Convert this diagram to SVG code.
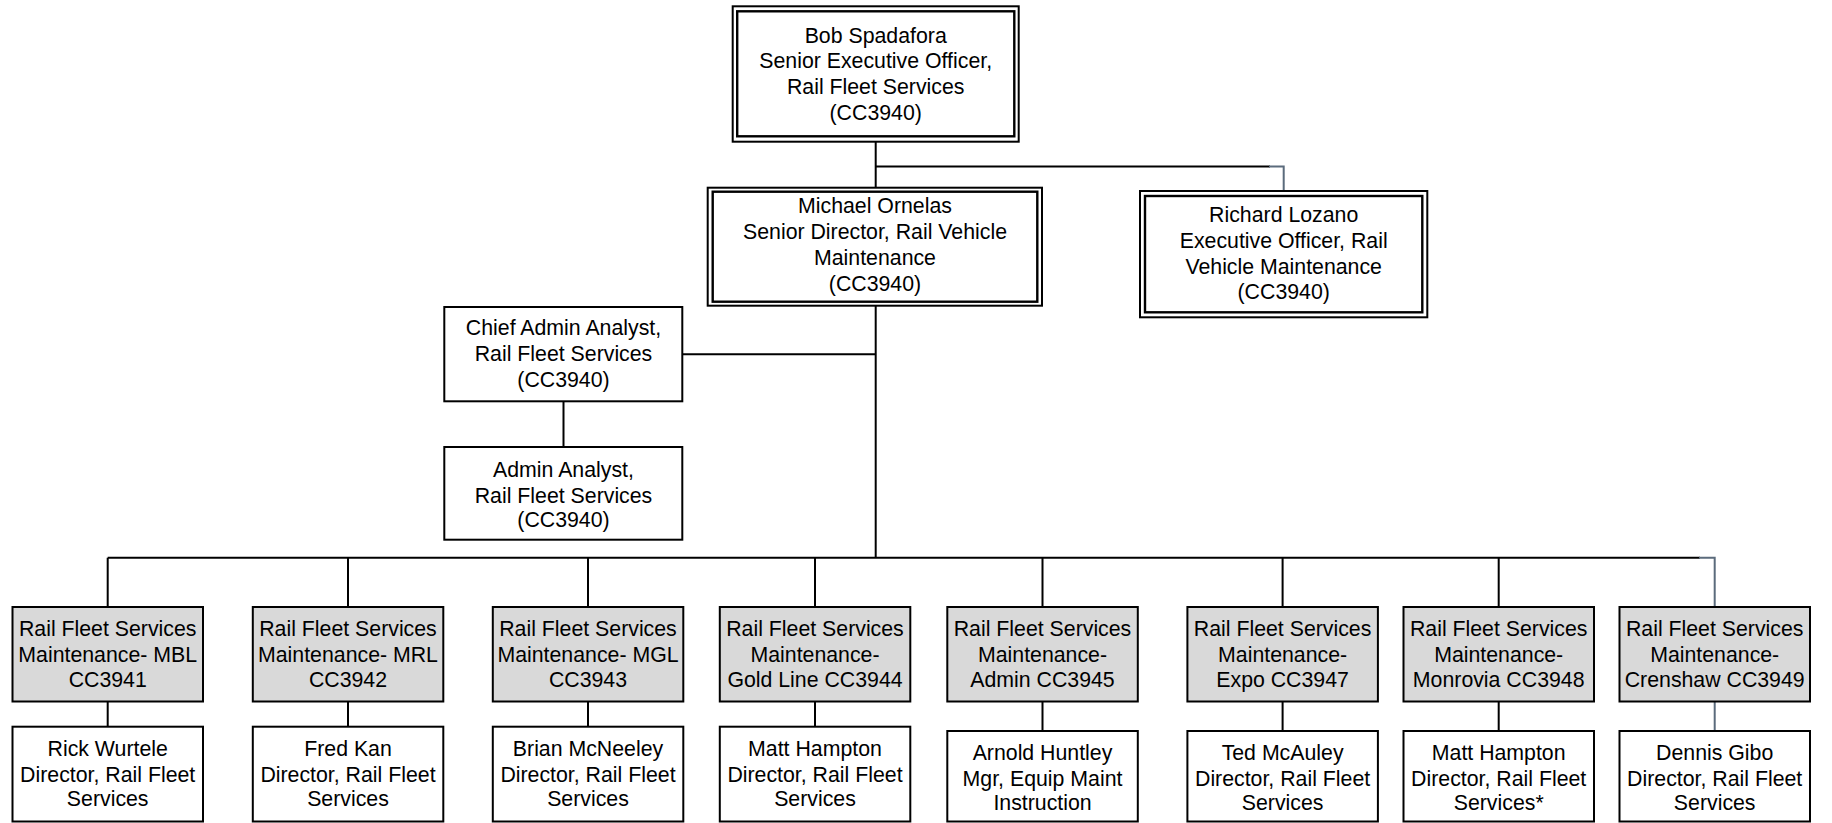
<svg xmlns="http://www.w3.org/2000/svg" width="1832" height="823" viewBox="0 0 1832 823">
<style>
  text { font-family: "Liberation Sans", Arial, sans-serif; font-size: 21.3px; fill: #000; text-anchor: middle; }
  .box { fill: #fff; stroke: #000; stroke-width: 2; }
  .gray { fill: #d9d9d9; stroke: #000; stroke-width: 2; }
  .outer { fill: #fff; stroke: #000; stroke-width: 2; }
  .inner { fill: none; stroke: #000; stroke-width: 2.4; }
  .conn { fill: none; stroke: #000; stroke-width: 2; }
  .slate { fill: none; stroke: #5b6b7c; stroke-width: 2; }
</style>
<rect width="1832" height="823" fill="#fff"/>

<g id="connectors">
  <path class="conn" d="M875.7 142 V188"/>
  <path class="conn" d="M875.7 166.5 H1270"/>
  <path class="slate" d="M1269 166.5 H1283.7 V191"/>
  <path class="conn" d="M875.7 306 V557.7"/>
  <path class="conn" d="M683 354.3 H875.7"/>
  <path class="conn" d="M563.5 402 V446"/>
  <path class="conn" d="M107.7 557.7 H1700"/>
  <path class="slate" d="M1699 557.7 H1714.7 V606"/>
  <path class="conn" d="M107.7 557.7 V606 M348 557.7 V606 M588 557.7 V606 M815 557.7 V606 M1042.5 557.7 V606 M1282.6 557.7 V606 M1498.7 557.7 V606"/>
  <path class="conn" d="M107.7 702 V726 M348 702 V726 M588 702 V726 M815 702 V726 M1042.5 702 V730 M1282.6 702 V730 M1498.7 702 V730"/>
  <path class="slate" d="M1714.7 702 V730"/>
</g>

<g id="bob">
  <rect class="outer" x="732.7" y="6.3" width="286" height="135.4"/>
  <rect class="inner" x="737.2" y="11.3" width="277.1" height="125"/>
  <text x="875.7" y="42.7">Bob Spadafora</text>
  <text x="875.7" y="68.3">Senior Executive Officer,</text>
  <text x="875.7" y="94">Rail Fleet Services</text>
  <text x="875.7" y="119.7">(CC3940)</text>
</g>

<g id="michael">
  <rect class="outer" x="707.7" y="187.7" width="334.3" height="118"/>
  <rect class="inner" x="712.7" y="191.7" width="324.6" height="110"/>
  <text x="875" y="213.3">Michael Ornelas</text>
  <text x="875" y="239.3">Senior Director, Rail Vehicle</text>
  <text x="875" y="265">Maintenance</text>
  <text x="875" y="290.5">(CC3940)</text>
</g>

<g id="richard">
  <rect class="outer" x="1140" y="191" width="287.3" height="126.3"/>
  <rect class="inner" x="1145" y="196" width="277.3" height="116.3"/>
  <text x="1283.7" y="222.3">Richard Lozano</text>
  <text x="1283.7" y="248.3">Executive Officer, Rail</text>
  <text x="1283.7" y="273.5">Vehicle Maintenance</text>
  <text x="1283.7" y="299">(CC3940)</text>
</g>

<g id="chief">
  <rect class="box" x="444.3" y="307" width="238" height="94.3"/>
  <text x="563.5" y="335">Chief Admin Analyst,</text>
  <text x="563.5" y="361.3">Rail Fleet Services</text>
  <text x="563.5" y="386.5">(CC3940)</text>
</g>

<g id="admin">
  <rect class="box" x="444.3" y="447" width="238" height="92.7"/>
  <text x="563.5" y="476.7">Admin Analyst,</text>
  <text x="563.5" y="502.5">Rail Fleet Services</text>
  <text x="563.5" y="527.3">(CC3940)</text>
</g>

<g id="cc3941">
  <rect class="gray" x="12.5" y="607" width="190.5" height="94.5"/>
  <text x="107.7" y="636">Rail Fleet Services</text>
  <text x="107.7" y="661.5">Maintenance- MBL</text>
  <text x="107.7" y="687">CC3941</text>
</g>
<g id="cc3942">
  <rect class="gray" x="252.8" y="607" width="190.5" height="94.5"/>
  <text x="348" y="636">Rail Fleet Services</text>
  <text x="348" y="661.5">Maintenance- MRL</text>
  <text x="348" y="687">CC3942</text>
</g>
<g id="cc3943">
  <rect class="gray" x="492.8" y="607" width="190.5" height="94.5"/>
  <text x="588" y="636">Rail Fleet Services</text>
  <text x="588" y="661.5">Maintenance- MGL</text>
  <text x="588" y="687">CC3943</text>
</g>
<g id="cc3944">
  <rect class="gray" x="719.8" y="607" width="190.5" height="94.5"/>
  <text x="815" y="636">Rail Fleet Services</text>
  <text x="815" y="661.5">Maintenance-</text>
  <text x="815" y="687">Gold Line CC3944</text>
</g>
<g id="cc3945">
  <rect class="gray" x="947.3" y="607" width="190.5" height="94.5"/>
  <text x="1042.5" y="636">Rail Fleet Services</text>
  <text x="1042.5" y="661.5">Maintenance-</text>
  <text x="1042.5" y="687">Admin CC3945</text>
</g>
<g id="cc3947">
  <rect class="gray" x="1187.4" y="607" width="190.5" height="94.5"/>
  <text x="1282.6" y="636">Rail Fleet Services</text>
  <text x="1282.6" y="661.5">Maintenance-</text>
  <text x="1282.6" y="687">Expo CC3947</text>
</g>
<g id="cc3948">
  <rect class="gray" x="1403.5" y="607" width="190.5" height="94.5"/>
  <text x="1498.7" y="636">Rail Fleet Services</text>
  <text x="1498.7" y="661.5">Maintenance-</text>
  <text x="1498.7" y="687">Monrovia CC3948</text>
</g>
<g id="cc3949">
  <rect class="gray" x="1619.5" y="607" width="190.5" height="94.5"/>
  <text x="1714.7" y="636">Rail Fleet Services</text>
  <text x="1714.7" y="661.5">Maintenance-</text>
  <text x="1714.7" y="687">Crenshaw CC3949</text>
</g>

<g id="wurtele">
  <rect class="box" x="12.5" y="726.7" width="190.5" height="94.8"/>
  <text x="107.7" y="756">Rick Wurtele</text>
  <text x="107.7" y="781.5">Director, Rail Fleet</text>
  <text x="107.7" y="806">Services</text>
</g>
<g id="kan">
  <rect class="box" x="252.8" y="726.7" width="190.5" height="94.8"/>
  <text x="348" y="756">Fred Kan</text>
  <text x="348" y="781.5">Director, Rail Fleet</text>
  <text x="348" y="806">Services</text>
</g>
<g id="mcneeley">
  <rect class="box" x="492.8" y="726.7" width="190.5" height="94.8"/>
  <text x="588" y="756">Brian McNeeley</text>
  <text x="588" y="781.5">Director, Rail Fleet</text>
  <text x="588" y="806">Services</text>
</g>
<g id="hampton1">
  <rect class="box" x="719.8" y="726.7" width="190.5" height="94.8"/>
  <text x="815" y="756">Matt Hampton</text>
  <text x="815" y="781.5">Director, Rail Fleet</text>
  <text x="815" y="806">Services</text>
</g>
<g id="huntley">
  <rect class="box" x="947.3" y="731" width="190.5" height="90.5"/>
  <text x="1042.5" y="760">Arnold Huntley</text>
  <text x="1042.5" y="786">Mgr, Equip Maint</text>
  <text x="1042.5" y="810">Instruction</text>
</g>
<g id="mcauley">
  <rect class="box" x="1187.4" y="731" width="190.5" height="90.5"/>
  <text x="1282.6" y="760">Ted McAuley</text>
  <text x="1282.6" y="786">Director, Rail Fleet</text>
  <text x="1282.6" y="810">Services</text>
</g>
<g id="hampton2">
  <rect class="box" x="1403.5" y="731" width="190.5" height="90.5"/>
  <text x="1498.7" y="760">Matt Hampton</text>
  <text x="1498.7" y="786">Director, Rail Fleet</text>
  <text x="1498.7" y="810">Services*</text>
</g>
<g id="gibo">
  <rect class="box" x="1619.5" y="731" width="190.5" height="90.5"/>
  <text x="1714.7" y="760">Dennis Gibo</text>
  <text x="1714.7" y="786">Director, Rail Fleet</text>
  <text x="1714.7" y="810">Services</text>
</g>
</svg>
